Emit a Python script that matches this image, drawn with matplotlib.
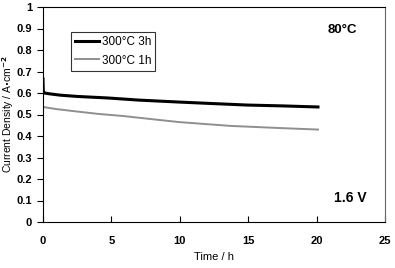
import matplotlib
matplotlib.use("Agg")
import matplotlib.pyplot as plt

plt.rcParams.update({
    "font.family": ["Liberation Sans", "DejaVu Sans"],
    "font.weight": "bold",
    "font.size": 8,
})

# readings
t_3h = [0.0, 0.02, 0.1, 0.5, 1.25, 2.5, 4.7, 7.0, 9.9, 12.0, 14.9, 17.5, 20.1]
j_3h = [0.665, 0.61, 0.60, 0.596, 0.59, 0.584, 0.577, 0.567, 0.558, 0.552, 0.544, 0.54, 0.535]
t_1h = [0.0, 1.0, 2.2, 4.0, 5.85, 8.0, 9.9, 12.0, 13.7, 15.5, 17.3, 20.1]
j_1h = [0.535, 0.525, 0.516, 0.503, 0.493, 0.478, 0.465, 0.455, 0.447, 0.442, 0.437, 0.43]

fig = plt.figure(figsize=(3.95, 2.68), dpi=100)
ax = fig.add_axes([43/395, 1 - 222/268, 342/395, 215/268])

ax.plot(t_3h, j_3h, color="black", lw=2.2, label="300\u00b0C 3h")
ax.plot(t_1h, j_1h, color="#8f8f8f", lw=1.4, label="300\u00b0C 1h")

ax.set_xlim(0, 25)
ax.set_ylim(0, 1)
ax.set_xticks([0, 5, 10, 15, 20, 25])
ax.set_yticks([0, 0.1, 0.2, 0.3, 0.4, 0.5, 0.6, 0.7, 0.8, 0.9, 1])
ax.set_yticklabels(["0", "0.1", "0.2", "0.3", "0.4", "0.5", "0.6", "0.7", "0.8", "0.9", "1"])
ax.tick_params(axis="x", direction="in", length=4, pad=10)
ax.tick_params(axis="y", direction="out", length=4, pad=4)
for s in ax.spines.values():
    s.set_linewidth(0.8)
ax.spines["right"].set_color("#666666")

ax.set_xlabel("Time / h", fontsize=8)
ax.xaxis.set_label_coords(0.5, -0.165)
ax.xaxis.label.set_va("center")
ax.set_ylabel(r"Current Density / A$\cdot$cm$^{-2}$", fontsize=7.5)
ax.yaxis.set_label_coords(-0.102, 0.5)
ax.yaxis.label.set_va("center")

ax.text(0.874, 0.893, "80\u00b0C", transform=ax.transAxes, ha="center", va="center", fontsize=9.5)
ax.text(0.90, 0.11, "1.6 V", transform=ax.transAxes, ha="center", va="center", fontsize=10)

leg = ax.legend(loc="upper left", bbox_to_anchor=(0.082, 0.884), frameon=True, fancybox=False,
                edgecolor="black", prop={"size": 8.5, "weight": "normal"},
                handlelength=2.0, borderpad=0.35, labelspacing=0.55,
                handletextpad=0.25, borderaxespad=0)
leg.get_frame().set_linewidth(0.8)

fig.savefig("out.png", dpi=100)
